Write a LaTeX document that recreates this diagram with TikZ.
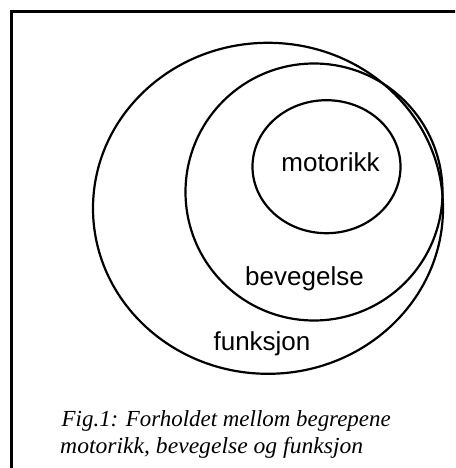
\documentclass[tikz,border=0pt]{standalone}
\usepackage{fontspec}
\usetikzlibrary{shapes.geometric}
\newfontfamily\labelfont{Liberation Sans}
\newfontfamily\capfont{Liberation Serif}
\begin{document}
\begin{tikzpicture}[x=1pt,y=-1pt,
  ring/.style={draw=black,line width=2.2pt},
  lbl/.style={anchor=base,inner sep=0pt,font=\labelfont\fontsize{26}{30}\selectfont},
  capline/.style={anchor=base west,inner sep=0pt,font=\capfont\itshape\fontsize{23}{27}\selectfont}]
\useasboundingbox (0,0) rectangle (455,468);
\begin{scope}
\clip (0,0) rectangle (455,468);
\draw[line width=3pt] (11.5,480) -- (11.5,11.5) -- (470,11.5);
\end{scope}
\node[ring,ellipse,minimum width=350pt,minimum height=331pt,inner sep=0pt] (funk) at (268,208.3) {};
\node[ring,circle,minimum size=257pt,inner sep=0pt] (bev) at (314,192) {};
\node[ring,ellipse,minimum width=148pt,minimum height=133pt,inner sep=0pt] (mot) at (326.5,166.7) {};
\node[lbl] (tmot) at (330.5,171.7) {motorikk};
\node[lbl] (tbev) at (304.5,285) {bevegelse};
\node[lbl] (tfunk) at (262,350) {funksjon};
\node[capline] (cap1) at (61.5,426) {\resizebox{329pt}{\height}{Fig.1: Forholdet mellom begrepene}};
\node[capline] (cap2) at (60,453.3) {\resizebox{303pt}{\height}{motorikk, bevegelse og funksjon}};
\end{tikzpicture}
\end{document}
